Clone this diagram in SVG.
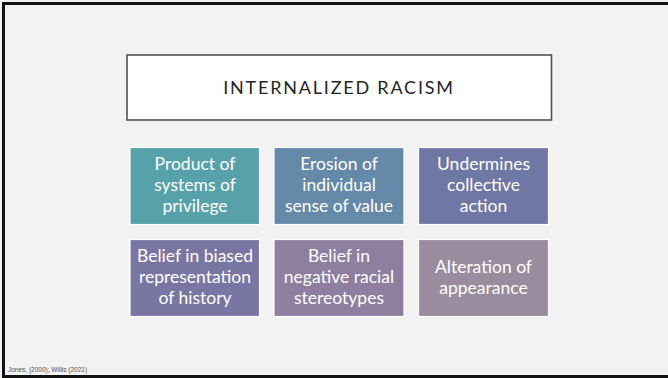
<svg xmlns="http://www.w3.org/2000/svg" width="668" height="378" viewBox="0 0 668 378">
<style>
.box{stroke:#ffffff;stroke-width:1.2}
.t{font-family:Lato,"Open Sans","Liberation Sans",sans-serif;font-size:17.5px;fill:#ffffff;text-anchor:middle}
.title{font-family:Lato,"Open Sans","Liberation Sans",sans-serif;font-size:18px;fill:#262626;text-anchor:middle;letter-spacing:1.8px}
</style>
<rect x="0" y="0" width="668" height="378" fill="#f2f2f2"/>
<rect x="3.5" y="3.5" width="670" height="373" fill="none" stroke="#111111" stroke-width="3"/>
<g id="title">
<rect x="127" y="55" width="424.5" height="65" fill="#ffffff" stroke="#505050" stroke-width="1.6"/>
<text class="title" x="339" y="94">INTERNALIZED RACISM</text>
</g>
<g id="n1">
<rect class="box" x="130" y="147.5" width="129.5" height="77" fill="#57a2aa"/>
<text class="t" x="195" y="170">Product of</text>
<text class="t" x="195" y="191">systems of</text>
<text class="t" x="195" y="212">privilege</text>
</g>
<g id="n2">
<rect class="box" x="274" y="147.5" width="130" height="77" fill="#6489a9"/>
<text class="t" x="339" y="170">Erosion of</text>
<text class="t" x="339" y="191">individual</text>
<text class="t" x="339" y="212">sense of value</text>
</g>
<g id="n3">
<rect class="box" x="418.5" y="147.5" width="130" height="77" fill="#6f77a5"/>
<text class="t" x="483.5" y="170">Undermines</text>
<text class="t" x="483.5" y="191">collective</text>
<text class="t" x="483.5" y="212">action</text>
</g>
<g id="n4">
<rect class="box" x="130" y="239.5" width="129.5" height="77" fill="#7a76a3"/>
<text class="t" x="195" y="262">Belief in biased</text>
<text class="t" x="195" y="283">representation</text>
<text class="t" x="195" y="304">of history</text>
</g>
<g id="n5">
<rect class="box" x="274" y="239.5" width="130" height="77" fill="#8e7fa0"/>
<text class="t" x="339" y="262">Belief in</text>
<text class="t" x="339" y="283">negative racial</text>
<text class="t" x="339" y="304">stereotypes</text>
</g>
<g id="n6">
<rect class="box" x="418.5" y="239.5" width="130" height="77" fill="#9a8c9e"/>
<text class="t" x="483.5" y="273">Alteration of</text>
<text class="t" x="483.5" y="294">appearance</text>
</g>
<g id="connectors"></g>
<text x="8" y="372" font-family="Liberation Sans,Arial,sans-serif" font-size="6.5" fill="#505050">Jones, (2000); Willis (2021)</text>
</svg>
